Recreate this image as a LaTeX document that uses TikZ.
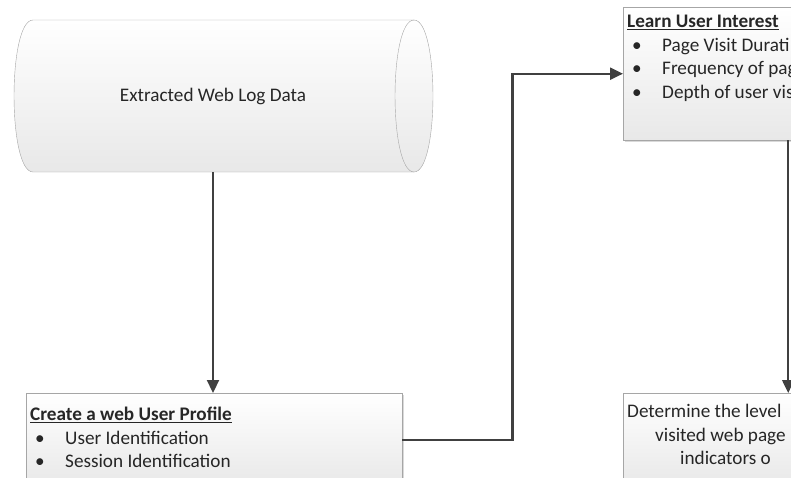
\documentclass[tikz,border=0pt]{standalone}
\usepackage{fontspec}
\setmainfont{Carlito}
\usetikzlibrary{arrows.meta,shadows,positioning}

\newcommand{\bul}{\hspace*{5pt}\makebox[30pt][l]{\textbullet}}

\tikzset{
  panel/.style={draw=gray!70, top color=white, bottom color=black!9,
    drop shadow={shadow xshift=1.5pt, shadow yshift=-1.5pt, opacity=0.3},
    anchor=north west, inner sep=0pt},
  boxtext/.style={inner sep=0pt, anchor=north west, align=left, text=black!85,
    font=\fontsize{19.2}{23.5}\selectfont},
  flow/.style={draw=black!75, line width=2.2pt, -{Triangle[length=13pt,width=12pt]}},
}

\begin{document}
\begin{tikzpicture}[x=1pt,y=-1pt]
  \useasboundingbox (0,0) rectangle (791,477);
  \clip (0,0) rectangle (791,477);

  % data store
  \shadedraw[draw=gray!70, top color=white, bottom color=black!9]
    (33,20) -- (414,20) .. controls (439.3,20) and (439.3,172) .. (414,172)
    -- (33,172) .. controls (7.7,172) and (7.7,20) .. cycle;
  \draw[gray!70] (414,20) .. controls (388.7,20) and (388.7,172) .. (414,172);
  \node[minimum height=152, text=black!85, font=\fontsize{19.2}{23.5}\selectfont]
    (logdata) at (213,96) {Extracted Web Log Data};

  % boxes
  \node[panel, minimum width=376, minimum height=94] (profile) at (26,393) {};
  \node[panel, minimum width=330, minimum height=133] (interest) at (623,7) {};
  \node[panel, minimum width=330, minimum height=94] (level) at (623,393) {};

  \node[boxtext] (profiletext) at ([shift={(4,14)}]profile.north west)
    {\underline{\textbf{Create a web User Profile}}\\
     \bul User Identification\\
     \bul Session Identification};
  \node[boxtext] (interesttext) at ([shift={(4,8)}]interest.north west)
    {\underline{\textbf{Learn User Interest}}\\
     \bul Page Visit Durati\\
     \bul Frequency of pag\\
     \bul Depth of user vis};
  \node[boxtext] (leveltext) at ([shift={(4,11)}]level.north west)
    {Determine the level\\
     \hspace*{28pt}visited web page\\
     \hspace*{53pt}indicators o};

  % connectors
  \draw[flow] (logdata.south) -- (logdata.south |- profile.north);
  \draw[flow] (profile.east) -- ++(110,0) |- (interest.west);
  \draw[flow] (interest.south) -- (level.north);
\end{tikzpicture}
\end{document}
